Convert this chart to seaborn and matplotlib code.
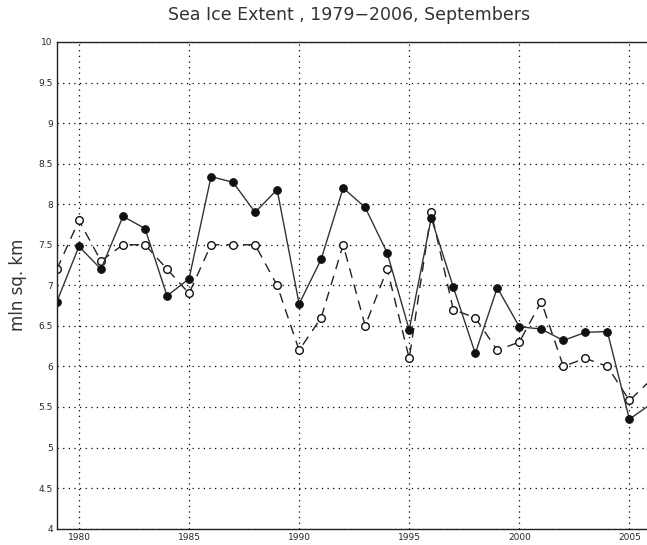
import numpy as np
import pandas as pd
import matplotlib
matplotlib.use("Agg")
import matplotlib.pyplot as plt
import seaborn as sns

years = list(range(1979, 2007))
solid_vals = [6.80, 7.48, 7.20, 7.85, 7.70, 6.87, 7.08, 8.34, 8.27, 7.90,
              8.18, 6.77, 7.32, 8.20, 7.96, 7.40, 6.45, 7.83, 6.98, 6.16,
              6.97, 6.49, 6.46, 6.32, 6.42, 6.43, 5.35, 5.54]
dashed_vals = [7.20, 7.80, 7.30, 7.50, 7.50, 7.20, 6.90, 7.50, 7.50, 7.50,
               7.00, 6.20, 6.60, 7.50, 6.50, 7.20, 6.10, 7.90, 6.70, 6.60,
               6.20, 6.30, 6.80, 6.00, 6.10, 6.00, 5.58, 5.84]
xticks = [1980, 1985, 1990, 1995, 2000, 2005]
yticks = [4, 4.5, 5, 5.5, 6, 6.5, 7, 7.5, 8, 8.5, 9, 9.5, 10]
ytick_labels = ["4", "4.5", "5", "5.5", "6", "6.5", "7", "7.5", "8", "8.5", "9", "9.5", "10"]

df = pd.DataFrame({"year": years, "solid": solid_vals, "dashed": dashed_vals})

sns.set_style("white")
plt.rcParams['font.family'] = ['DejaVu Sans']

fig = plt.figure(figsize=(6.47, 5.45), dpi=100)
ax = fig.add_axes([0.088, 0.03, 0.912, 0.893])

sns.lineplot(data=df, x="year", y="dashed", ax=ax, color="#222222", lw=1.0,
             dashes=False, linestyle=(0, (7, 5)), marker="o", markersize=5.5,
             markerfacecolor="white", markeredgecolor="#111111", markeredgewidth=1.0)
sns.lineplot(data=df, x="year", y="solid", ax=ax, color="#333333", lw=1.0,
             marker="o", markersize=5.5, markerfacecolor="#111111",
             markeredgecolor="#111111")

ax.set_xlim(1979, 2005.8)
ax.set_ylim(4, 10)
ax.set_xticks(xticks)
ax.set_xticklabels([str(t) for t in xticks], fontsize=6.5)
ax.set_yticks(yticks)
ax.set_yticklabels(ytick_labels, fontsize=6.5)
ax.grid(True, color="black", linestyle=(0, (1, 3.5)), linewidth=0.9)
ax.tick_params(axis="both", direction="out", length=2, width=0.8, pad=1)
ax.set_xlabel("")
ax.set_ylabel("mln sq. km", fontsize=12, color="#333333", labelpad=8)
for side in ["left", "top", "bottom"]:
    ax.spines[side].set_color("#222222")
    ax.spines[side].set_linewidth(1.0)
ax.spines["right"].set_visible(False)

fig.text(0.54, 0.972, "Sea Ice Extent , 1979\u22122006, Septembers",
         ha="center", va="center", fontsize=12.5, color="#333333")

fig.savefig("out.png", dpi=100)
